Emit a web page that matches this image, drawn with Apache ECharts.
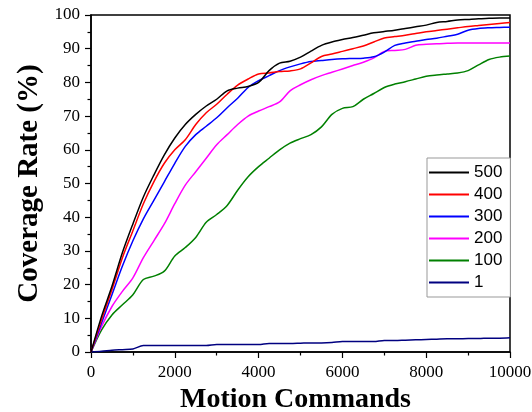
<!DOCTYPE html>
<html>
<head>
<meta charset="utf-8">
<script src="https://cdn.jsdelivr.net/npm/echarts@6/dist/echarts.min.js"></script>
<style>
  html, body { margin: 0; padding: 0; background: #fff; }
  #chart { width: 532px; height: 412px; }
</style>
</head>
<body>
<div id="chart"></div>
<script>
// Motion command counts sampled every 250 steps
var commands = [0, 250, 500, 750, 1000, 1250, 1500, 1750, 2000, 2250, 2500, 2750, 3000, 3250, 3500, 3750,
  4000, 4250, 4500, 4750, 5000, 5250, 5500, 5750, 6000, 6250, 6500, 6750, 7000, 7250, 7500, 7750,
  8000, 8250, 8500, 8750, 9000, 9250, 9500, 9750, 10000];

var seriesNames = ['500', '400', '300', '200', '100', '1'];

var cov500 = [0, 10.5, 19.5, 29.5, 38, 46, 52.5, 58.5, 63.5, 67.5, 70.5, 73, 75, 77.5, 78.3, 78.8,
  80, 83.5, 85.7, 86.3, 87.5, 89.3, 91, 92, 92.7, 93.3, 94, 94.7, 95.1, 95.5, 96, 96.5,
  97, 97.8, 98.1, 98.5, 98.7, 98.9, 99, 99.1, 99.1];
var cov400 = [0, 9.5, 18.5, 28, 36, 44, 50.5, 56, 60, 63, 67.5, 71, 73.5, 76.5, 79.2, 81,
  82.5, 82.8, 83.2, 83.4, 84, 85.8, 87.7, 88.4, 89.2, 90, 90.8, 92, 93.2, 93.6, 94, 94.5,
  95, 95.4, 95.8, 96.2, 96.6, 96.9, 97.2, 97.5, 97.8];
var cov300 = [0, 8.5, 17, 25.5, 33, 39.5, 45, 50.5, 56, 61, 64.5, 67, 69.5, 72.5, 75.3, 78.5,
  80.5, 82, 83.5, 84.6, 85.5, 86.2, 86.5, 86.8, 87, 87.1, 87.2, 87.6, 89, 91, 91.7, 92.2,
  92.7, 93.1, 93.7, 94.3, 95.5, 96, 96.2, 96.3, 96.4];
var cov200 = [0, 7.5, 13.5, 18, 22, 28, 33, 38, 44, 49.5, 53.5, 57.5, 61.5, 64.5, 67.5, 70,
  71.5, 72.8, 74.2, 77.5, 79.3, 80.8, 82, 83, 84, 85, 86, 87.3, 89.2, 89.5, 89.8, 91,
  91.3, 91.5, 91.6, 91.7, 91.7, 91.7, 91.7, 91.7, 91.7];
var cov100 = [0, 6.5, 11, 14, 17, 21.5, 22.5, 24, 28.5, 31, 34, 38.5, 40.8, 43.5, 48, 52,
  55, 57.5, 60, 62, 63.3, 64.5, 66.8, 70.5, 72.3, 72.8, 75, 76.7, 78.5, 79.5, 80.2, 81,
  81.8, 82.2, 82.5, 82.8, 83.5, 85.2, 86.8, 87.5, 87.8];
var cov1 = [0, 0.2, 0.5, 0.7, 0.9, 1.9, 1.9, 1.9, 1.9, 1.9, 1.9, 1.9, 2.2, 2.2, 2.2, 2.2,
  2.2, 2.5, 2.5, 2.5, 2.6, 2.7, 2.7, 2.8, 3.1, 3.1, 3.1, 3.1, 3.4, 3.4, 3.5, 3.6,
  3.7, 3.8, 3.9, 3.9, 4.0, 4.0, 4.1, 4.1, 4.2];

var xTicks = [0, 2000, 4000, 6000, 8000, 10000];
var yTicks = [0, 10, 20, 30, 40, 50, 60, 70, 80, 90, 100];

var colors = ['#000000', '#ff0000', '#0000ff', '#ff00ff', '#008000', '#000080'];
var values = [cov500, cov400, cov300, cov200, cov100, cov1];

var serif = '"Liberation Serif", "Times New Roman", serif';

function pairs(ys) {
  return commands.map(function (x, i) { return [x, ys[i]]; });
}

var chart = echarts.init(document.getElementById('chart'), null, { renderer: 'canvas' });

chart.setOption({
  backgroundColor: '#ffffff',
  animation: false,
  color: colors,
  grid: {
    left: 91, right: 22, top: 15, bottom: 60,
    outerBoundsMode: 'none',
    containLabel: false,
    show: true, borderColor: '#000', borderWidth: 1.5, backgroundColor: 'transparent'
  },
  legend: {
    orient: 'vertical',
    left: 427, top: 158,
    width: 78,
    padding: [6, 8, 6, 2],
    itemGap: 5,
    itemWidth: 40,
    itemHeight: 2,
    icon: 'rect',
    borderColor: '#999',
    borderWidth: 1,
    borderRadius: 0,
    backgroundColor: '#fff',
    data: seriesNames,
    textStyle: { fontFamily: '"Liberation Sans", Arial, sans-serif', fontSize: 17, lineHeight: 16, color: '#000' }
  },
  xAxis: {
    type: 'value',
    min: 0, max: 10000, interval: 2000,
    name: 'Motion Commands',
    nameLocation: 'middle',
    nameGap: 30,
    nameTextStyle: { fontFamily: serif, fontWeight: 'bold', fontSize: 28, color: '#000', padding: [0, 10, 0, 0] },
    axisLine: { show: true, lineStyle: { color: '#000', width: 1.5 } },
    axisTick: { show: true, length: 6, lineStyle: { color: '#000', width: 1.2 } },
    minorTick: { show: true, splitNumber: 2, length: 3.5, lineStyle: { color: '#000', width: 1.2 } },
    splitLine: { show: false },
    axisLabel: {
      margin: 12, fontFamily: serif, fontSize: 17, color: '#000',
      formatter: function (v) { return xTicks.indexOf(v) >= 0 ? String(v) : ''; }
    }
  },
  yAxis: {
    type: 'value',
    min: 0, max: 100, interval: 10,
    name: 'Coverage Rate (%)',
    nameLocation: 'middle',
    nameGap: 46,
    nameTextStyle: { fontFamily: serif, fontWeight: 'bold', fontSize: 29, color: '#000' },
    axisLine: { show: true, lineStyle: { color: '#000', width: 1.5 } },
    axisTick: { show: true, length: 6, lineStyle: { color: '#000', width: 1.2 } },
    minorTick: { show: true, splitNumber: 2, length: 3.5, lineStyle: { color: '#000', width: 1.2 } },
    splitLine: { show: false },
    axisLabel: {
      margin: 11, fontFamily: serif, fontSize: 17, color: '#000',
      formatter: function (v) { return yTicks.indexOf(v) >= 0 ? String(v) : ''; }
    }
  },
  series: seriesNames.map(function (name, i) {
    return {
      name: name,
      type: 'line',
      data: pairs(values[i]),
      symbol: 'none',
      smooth: 0.3,
      lineStyle: { color: colors[i], width: 1.5 },
      itemStyle: { color: colors[i] },
      z: 10 - i
    };
  })
});
</script>
</body>
</html>
